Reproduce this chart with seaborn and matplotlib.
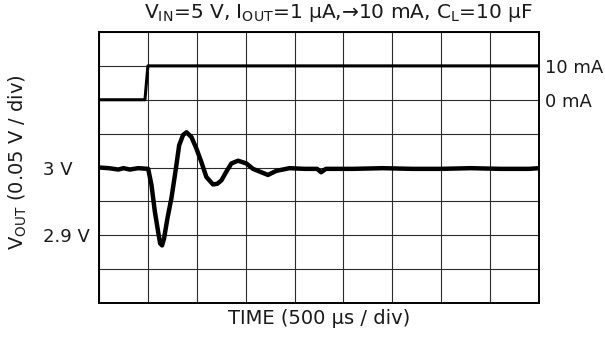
import matplotlib
matplotlib.use("Agg")
import matplotlib.pyplot as plt
import seaborn as sns
import pandas as pd

# ---- data ----
time_us = [0, 100, 197, 250, 316, 400, 503, 537, 571, 605, 625, 645, 665, 700, 741,
           786, 820, 860, 895, 945, 996, 1047, 1098, 1166, 1210, 1252, 1303, 1354,
           1422, 1507, 1575, 1643, 1728, 1813, 1949, 2100, 2230, 2272, 2320, 2600,
           2900, 3200, 3500, 3800, 4100, 4400, 4500]
vout_v = [3.000, 2.999, 2.997, 2.999, 2.997, 2.999, 2.998, 2.974, 2.935, 2.905, 2.888,
          2.885, 2.895, 2.925, 2.955, 2.998, 3.033, 3.048, 3.052, 3.045, 3.028, 3.008,
          2.986, 2.975, 2.976, 2.981, 2.994, 3.006, 3.010, 3.006, 2.998, 2.994, 2.989,
          2.995, 2.999, 2.998, 2.998, 2.993, 2.998, 2.998, 2.999, 2.998, 2.998, 2.999,
          2.998, 2.998, 2.999]

cur_time_us = [0, 470, 500, 4500]
iout_ma = [0, 0, 10, 10]

v_ticks = [2.80, 2.85, 2.90, 2.95, 3.00, 3.05, 3.10, 3.15, 3.20]
v_tick_labels = ["", "", "2.9 V", "", "3 V", "", "", "", ""]
i_ticks = [0, 10]
i_tick_labels = ["0 mA", "10 mA"]
t_ticks = [0, 500, 1000, 1500, 2000, 2500, 3000, 3500, 4000, 4500]

title = (r"V$_{\mathregular{IN}}$=5 V, I$_{\mathregular{OUT}}$=1 µA,→10 mA, "
         r"C$_{\mathregular{L}}$=10 µF")
xlabel = "TIME (500 µs / div)"
ylabel = r"V$_{\mathregular{OUT}}$ (0.05 V / div)"

# ---- style ----
sns.set_style("white")
plt.rcParams["font.family"] = ["DejaVu Sans"]
plt.rcParams["mathtext.fontset"] = "dejavusans"

W, H = 605, 338
fig = plt.figure(figsize=(W / 100, H / 100), dpi=100)
L, R, T, B = 99, 539, 32, 303
ax = fig.add_axes([L / W, 1 - B / H, (R - L) / W, (B - T) / H])

vdf = pd.DataFrame({"t": time_us, "v": vout_v})
idf = pd.DataFrame({"t": cur_time_us, "i": iout_ma})

sns.lineplot(data=vdf, x="t", y="v", ax=ax, color="black", linewidth=3.2,
             estimator=None, sort=False, zorder=5)
ax.set_xlim(0, 4500)
ax.set_ylim(2.8, 3.2)
ax.set_xticks(t_ticks)
ax.set_xticklabels([])
ax.set_yticks(v_ticks)
ax.set_yticklabels(v_tick_labels, fontsize=13, color="#1a1a1a")
ax.tick_params(axis="y", length=0, pad=40.3)
ax.tick_params(axis="x", length=0)
for lab in ax.get_yticklabels():
    lab.set_horizontalalignment("left")
ax.grid(True, color="#2b2b2b", linewidth=0.8)
for s in ax.spines.values():
    s.set_color("black")
    s.set_linewidth(1.2)

ax.set_xlabel(xlabel, fontsize=14, color="#1a1a1a")
ax.xaxis.set_label_coords(0.5, (B - 309) / (B - T))
ax.xaxis.label.set_va("top")
ax.set_ylabel(ylabel, fontsize=14, color="#1a1a1a")
ax.yaxis.set_label_coords((29 - L) / (R - L), 0.52)

ax2 = ax.twinx()
sns.lineplot(data=idf, x="t", y="i", ax=ax2, color="black", linewidth=2.2,
             estimator=None, sort=False, zorder=5)
ax2.set_ylim(-60, 20)
ax2.set_xlim(0, 4500)
ax2.set_yticks(i_ticks)
ax2.set_yticklabels(i_tick_labels, fontsize=13, color="#1a1a1a")
ax2.tick_params(axis="y", length=0, pad=4.3)
ax2.grid(False)
ax2.set_ylabel("")
for s in ax2.spines.values():
    s.set_color("black")
    s.set_linewidth(1.2)

fig.text(533 / W, 1 - 18 / H, title, ha="right", va="baseline",
         fontsize=14.5, color="#1a1a1a")

fig.savefig("out.png", dpi=100, facecolor="white")
